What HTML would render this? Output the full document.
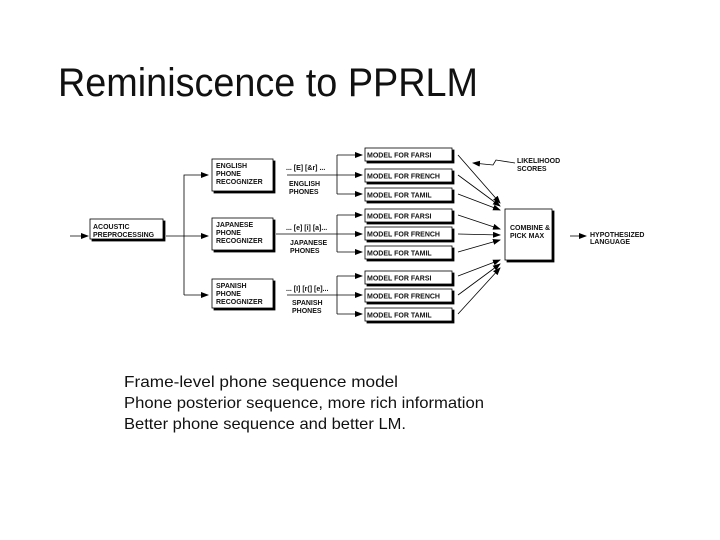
<!DOCTYPE html>
<html><head><meta charset="utf-8"><style>
html,body{margin:0;padding:0;background:#fff;}
svg{display:block}
</style></head><body>
<svg width="720" height="540" viewBox="0 0 720 540" xmlns="http://www.w3.org/2000/svg" font-family="Liberation Sans, sans-serif">
<defs>
<marker id="a" markerWidth="8" markerHeight="6" refX="7" refY="3" orient="auto" markerUnits="userSpaceOnUse"><path d="M0,0 L8,3 L0,6 Z" fill="#000"/></marker>
</defs>
<text x="58" y="96" font-size="40" fill="#111" textLength="420" lengthAdjust="spacingAndGlyphs">Reminiscence to PPRLM</text>

<g stroke="#000" stroke-width="0.8" fill="none">
<line x1="70" y1="236" x2="88" y2="236" marker-end="url(#a)"/>
<line x1="166" y1="236" x2="208" y2="236" marker-end="url(#a)"/>
<polyline points="184,295 184,175 208,175" marker-end="url(#a)"/>
<line x1="184" y1="295" x2="208" y2="295" marker-end="url(#a)"/>
<polyline points="337,155 337,194"/><line x1="287" y1="175" x2="362" y2="175" marker-end="url(#a)"/>
<line x1="337" y1="155" x2="362" y2="155" marker-end="url(#a)"/><line x1="337" y1="194" x2="362" y2="194" marker-end="url(#a)"/>
<polyline points="337,215 337,252"/><line x1="276" y1="234" x2="362" y2="234" marker-end="url(#a)"/>
<line x1="337" y1="215" x2="362" y2="215" marker-end="url(#a)"/><line x1="337" y1="252" x2="362" y2="252" marker-end="url(#a)"/>
<polyline points="337,276 337,314"/><line x1="287" y1="295" x2="362" y2="295" marker-end="url(#a)"/>
<line x1="337" y1="276" x2="362" y2="276" marker-end="url(#a)"/><line x1="337" y1="314" x2="362" y2="314" marker-end="url(#a)"/>
<line x1="458" y1="155" x2="500" y2="203" marker-end="url(#a)"/>
<line x1="458" y1="175" x2="500" y2="206" marker-end="url(#a)"/>
<line x1="458" y1="194" x2="500" y2="210" marker-end="url(#a)"/>
<line x1="458" y1="215" x2="500" y2="229" marker-end="url(#a)"/>
<line x1="458" y1="234" x2="500" y2="235" marker-end="url(#a)"/>
<line x1="458" y1="252" x2="500" y2="240" marker-end="url(#a)"/>
<line x1="458" y1="276" x2="500" y2="260" marker-end="url(#a)"/>
<line x1="458" y1="295" x2="500" y2="264" marker-end="url(#a)"/>
<line x1="458" y1="314" x2="500" y2="268" marker-end="url(#a)"/>
<polyline points="515,163 496,160 493,165 473,163" marker-end="url(#a)"/>
<line x1="570" y1="236" x2="586" y2="236" marker-end="url(#a)"/>
</g>

<g fill="#fff" stroke="#000" stroke-width="0.8">
<rect x="92" y="221" width="73" height="20" fill="#000"/><rect x="90" y="219" width="73" height="20"/>
<rect x="214" y="161" width="61" height="32" fill="#000"/><rect x="212" y="159" width="61" height="32"/>
<rect x="214" y="220" width="61" height="32" fill="#000"/><rect x="212" y="218" width="61" height="32"/>
<rect x="214" y="281" width="61" height="29" fill="#000"/><rect x="212" y="279" width="61" height="29"/>
<rect x="507" y="211" width="47" height="51" fill="#000"/><rect x="505" y="209" width="47" height="51"/>
</g>
<g fill="#fff" stroke="#000" stroke-width="0.8">
<rect x="367" y="150" width="87" height="13" fill="#000"/><rect x="365" y="148" width="87" height="13"/>
<rect x="367" y="171" width="87" height="13" fill="#000"/><rect x="365" y="169" width="87" height="13"/>
<rect x="367" y="190" width="87" height="13" fill="#000"/><rect x="365" y="188" width="87" height="13"/>
<rect x="367" y="211" width="87" height="13" fill="#000"/><rect x="365" y="209" width="87" height="13"/>
<rect x="367" y="229" width="87" height="13" fill="#000"/><rect x="365" y="227" width="87" height="13"/>
<rect x="367" y="248" width="87" height="13" fill="#000"/><rect x="365" y="246" width="87" height="13"/>
<rect x="367" y="273" width="87" height="13" fill="#000"/><rect x="365" y="271" width="87" height="13"/>
<rect x="367" y="291" width="87" height="13" fill="#000"/><rect x="365" y="289" width="87" height="13"/>
<rect x="367" y="310" width="87" height="13" fill="#000"/><rect x="365" y="308" width="87" height="13"/>
</g>

<g font-size="7" font-weight="bold" fill="#111">
<text x="93" y="229">ACOUSTIC</text><text x="93" y="237">PREPROCESSING</text>
<text x="216" y="168">ENGLISH</text><text x="216" y="176">PHONE</text><text x="216" y="184">RECOGNIZER</text>
<text x="216" y="227">JAPANESE</text><text x="216" y="235">PHONE</text><text x="216" y="243">RECOGNIZER</text>
<text x="216" y="288">SPANISH</text><text x="216" y="296">PHONE</text><text x="216" y="304">RECOGNIZER</text>
<text x="286" y="170">... [E] [&amp;r] ...</text><text x="289" y="186">ENGLISH</text><text x="289" y="194">PHONES</text>
<text x="286" y="230">... [e] [i] [a]...</text><text x="290" y="245">JAPANESE</text><text x="290" y="253">PHONES</text>
<text x="286" y="291">... [I] [r(] [e]...</text><text x="292" y="305">SPANISH</text><text x="292" y="313">PHONES</text>
<text x="367" y="157.5">MODEL FOR FARSI</text>
<text x="367" y="178.5">MODEL FOR FRENCH</text>
<text x="367" y="197.5">MODEL FOR TAMIL</text>
<text x="367" y="218.5">MODEL FOR FARSI</text>
<text x="367" y="236.5">MODEL FOR FRENCH</text>
<text x="367" y="255.5">MODEL FOR TAMIL</text>
<text x="367" y="280.5">MODEL FOR FARSI</text>
<text x="367" y="298.5">MODEL FOR FRENCH</text>
<text x="367" y="317.5">MODEL FOR TAMIL</text>
<text x="510" y="230">COMBINE &amp;</text><text x="510" y="238">PICK MAX</text>
<text x="517" y="163">LIKELIHOOD</text><text x="517" y="171">SCORES</text>
<text x="590" y="237">HYPOTHESIZED</text><text x="590" y="244">LANGUAGE</text>
</g>

<g font-size="16" fill="#111">
<text x="124" y="387" textLength="274" lengthAdjust="spacingAndGlyphs">Frame-level phone sequence model</text>
<text x="124" y="408" textLength="360" lengthAdjust="spacingAndGlyphs">Phone posterior sequence, more rich information</text>
<text x="124" y="429" textLength="282" lengthAdjust="spacingAndGlyphs">Better phone sequence and better LM.</text>
</g>
</svg>
</body></html>
